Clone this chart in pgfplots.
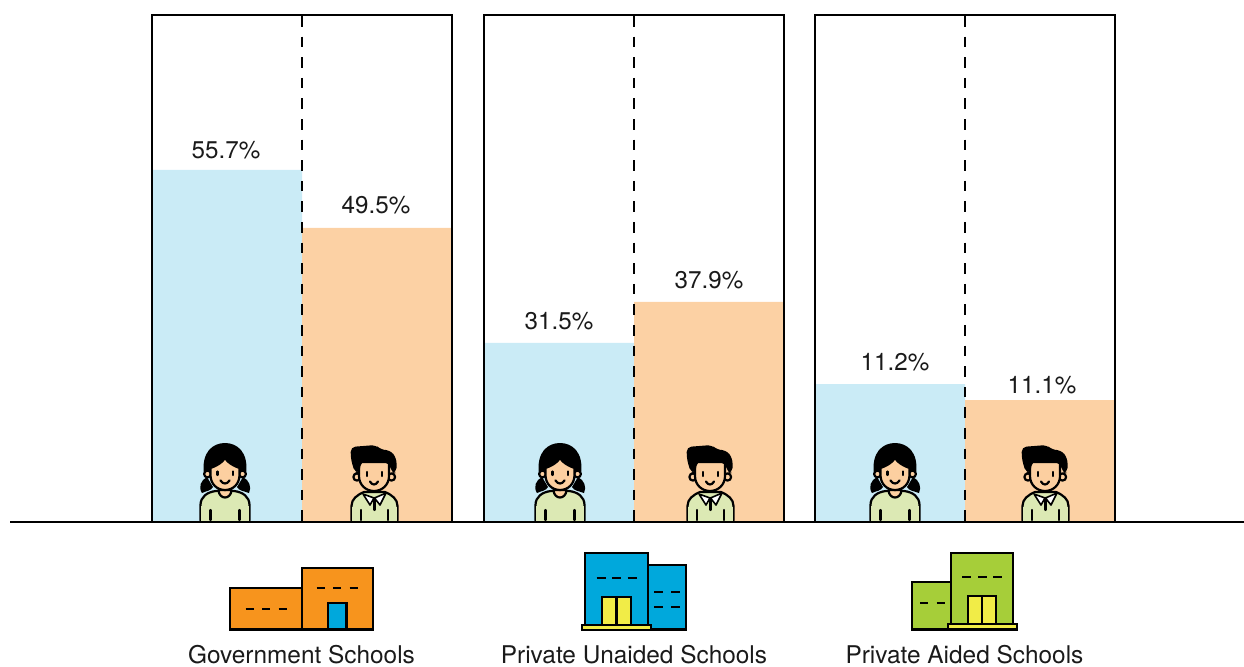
\documentclass[border=0pt]{standalone}
\usepackage{pgfplots}
\usepackage{pgfplotstable}
\usepackage{fontspec}
\setmainfont{TeX Gyre Heros}
\pgfplotsset{compat=1.18}
\definecolor{girlbar}{HTML}{CAEBF6}
\definecolor{boybar}{HTML}{FCD1A4}
\definecolor{skin}{HTML}{FCCFA0}
\definecolor{shirt}{HTML}{DCE9B4}
\definecolor{bOrange}{HTML}{F7941D}
\definecolor{bBlue}{HTML}{00A8DC}
\definecolor{bGreen}{HTML}{A6CE39}
\definecolor{bYellow}{HTML}{F1EC47}
\definecolor{ink}{HTML}{1A1A1A}
% x = bar centre (px), h = drawn bar height above baseline (px)
\pgfplotstableread{
x h
227 352
559 179
890 138
}\girls
\pgfplotstableread{
x h
377 294
709 220
1040 122
}\boys
% labels: x, height of the label centre above baseline, value
\pgfplotstableread{
x y v
226 372 55.7
376 317 49.5
559 201 31.5
709 242 37.9
895 160 11.2
1042 137 11.1
}\labels
\newcommand\girl[1]{%
\begin{scope}[shift={(#1,0)},line width=1.1pt,line join=round,line cap=round]
\fill[black] (-18,477) .. controls (-24,480) and (-27,487) .. (-23,493) .. controls (-19,491) and (-14,491) .. (-12,487) -- cycle;
\fill[black] (18,477) .. controls (24,480) and (27,487) .. (24,493) .. controls (19,491) and (14,491) .. (12,487) -- cycle;
\fill[black] (-21,474) .. controls (-24,452) and (-12,443) .. (0,443) .. controls (12,443) and (24,452) .. (21,474) -- cycle;
\draw[fill=shirt] (-24.5,520.5) -- (-24.5,505) .. controls (-24.5,497) and (-18,492) .. (-9,491) -- (9,491) .. controls (18,492) and (24.5,497) .. (24.5,505) -- (24.5,520.5);
\fill[shirt] (-24,520.5) rectangle (24,506);
\draw (-14.5,510) -- (-14.5,520) (14.5,510) -- (14.5,520);
\draw[fill=skin] (-6.5,490) .. controls (-6,500) and (6,500) .. (6.5,490) -- cycle;
\draw[fill=skin] (-17.5,474) circle[radius=3.4];
\draw[fill=skin] (17.5,474) circle[radius=3.4];
\draw[fill=skin] (-14.5,468) .. controls (-9,466) and (-3,463) .. (0,458) .. controls (3,463) and (9,466) .. (14.5,468) -- (14.5,475) .. controls (14.5,484) and (8,490) .. (0,490) .. controls (-8,490) and (-14.5,484) .. (-14.5,475) -- cycle;
\draw (-7.5,471.5) -- (-7.5,475) (8,471.5) -- (8,475);
\draw (-4.5,480.5) .. controls (-2,484.5) and (2,484.5) .. (4.5,480.5);
\end{scope}}
\newcommand\boy[1]{%
\begin{scope}[shift={(#1,0)},line width=1.1pt,line join=round,line cap=round]
\draw[fill=shirt] (-22.5,520.5) -- (-22.5,506) .. controls (-22.5,499) and (-17,495) .. (-10,492) -- (11,492) .. controls (18,495) and (23.5,499) .. (23.5,506) -- (23.5,520.5);
\fill[shirt] (-22,520.5) rectangle (23,507);
\draw (-12.7,510) -- (-12.7,520) (14,510) -- (14,520);
\draw[fill=white,line width=0.8pt] (-11,494) -- (0,498) -- (-4,505) -- cycle;
\draw[fill=white,line width=0.8pt] (12,493) -- (0.5,498) -- (6,505) -- cycle;
\draw (0.5,498) -- (0.5,510);
\draw[fill=skin] (-17,477) circle[radius=3.6];
\draw[fill=skin] (17.5,477) circle[radius=3.6];
\draw[fill=skin] (-15,462) -- (15,462) -- (15,476) .. controls (15,485) and (8,491) .. (0,491) .. controls (-8,491) and (-15,485) .. (-15,476) -- cycle;
\fill[black,rounded corners=2.5pt] (-23.5,447) -- (2,445) -- (7,450) -- (16,450) -- (22.5,458) -- (22.5,473) -- (17,473) -- (16,463) -- (-13,461) -- (-14.5,473) -- (-19,473) -- (-23,460) -- cycle;
\draw (-7,472) -- (-7,476) (8.3,472) -- (8.3,476);
\draw (-4,481.5) .. controls (-2,485.5) and (2,485.5) .. (4,481.5);
\end{scope}}
\begin{document}
\begin{tikzpicture}
\useasboundingbox (0,0) rectangle (622pt,333pt);
\begin{axis}[
  at={(0,0)},anchor=south west,
  scale only axis,width=622pt,height=333pt,
  xmin=0,xmax=1244,ymin=-144,ymax=522,
  hide axis,clip=false,
  /pgf/number format/assume math mode=true,
  ybar,bar width=150,bar shift=0pt,
]
\addplot[draw=none,fill=girlbar] table[x=x,y=h] {\girls};
\addplot[draw=none,fill=boybar] table[x=x,y=h] {\boys};
\addplot[draw=none,fill=none,
  point meta=explicit,
  nodes near coords={\pgfmathprintnumber[fixed,fixed zerofill,precision=1]{\pgfplotspointmeta}\%},
  every node near coord/.style={anchor=center,font=\fontsize{12.1}{14}\selectfont,text=ink,inner sep=0pt}]
  table[x=x,y=y,meta=v] {\labels};
\end{axis}
\begin{scope}[shift={(0pt,333pt)},x=0.5pt,y=-0.5pt]
\begin{scope}[line width=1pt]
\draw (152,522) -- (152,15) -- (452,15) -- (452,522);
\draw (484,522) -- (484,15) -- (784,15) -- (784,522);
\draw (815,522) -- (815,15) -- (1115,15) -- (1115,522);
\end{scope}
\begin{scope}[line width=0.75pt,dash pattern=on 5.3pt off 5pt]
\draw (301.8,16) -- (301.8,522);
\draw (633.8,16) -- (633.8,522);
\draw (964.8,16) -- (964.8,522);
\end{scope}
\girl{225}\girl{560}\girl{895}
\boy{374}\boy{710}\boy{1045}
\draw[line width=1pt] (10,522) -- (1244,522);
% Government school
\begin{scope}[line width=1.1pt,line join=miter]
\draw[fill=bOrange] (230,588) rectangle (302,629.5);
\draw[fill=bOrange] (302,568) rectangle (373,629.5);
\draw[fill=bBlue] (328,603) rectangle (346.5,629.5);
\draw (316.7,587.7) -- +(8,0) (333,587.7) -- +(8,0) (349.5,587.7) -- +(8,0);
\draw (245.7,608.7) -- +(8,0) (262,608.7) -- +(8,0) (278.5,608.7) -- +(8,0);
% Private unaided
\draw[fill=bBlue] (647.7,565.3) rectangle (686,629.5);
\draw[fill=bBlue] (585.3,552.7) rectangle (647.7,626);
\draw[fill=bYellow] (602.3,596.7) rectangle (616.5,625);
\draw[fill=bYellow] (616.5,596.7) rectangle (630.7,625);
\draw[fill=bYellow] (582.3,625) rectangle (651,630);
\draw (596.7,577.7) -- +(9,0) (612,577.7) -- +(9,0) (627.5,577.7) -- +(9,0);
\draw (654.3,591.7) -- +(9,0) (671,591.7) -- +(9,0);
\draw (654.3,607) -- +(9,0) (671,607) -- +(9,0);
% Private aided
\draw[fill=bGreen] (912.3,582) rectangle (951,629.5);
\draw[fill=bGreen] (951,553.3) rectangle (1013.3,626);
\draw[fill=bYellow] (968,596) rectangle (982.3,624);
\draw[fill=bYellow] (982.3,596) rectangle (996.3,624);
\draw[fill=bYellow] (948,624.2) rectangle (1016.7,629.5);
\draw (962.3,577) -- +(9,0) (978,577) -- +(9,0) (993.3,577) -- +(9,0);
\draw (920,603.3) -- +(8,0) (936.7,603.3) -- +(8,0);
\end{scope}
\node[anchor=base,font=\fontsize{12.2}{14}\selectfont,text=ink,inner sep=0pt] at (301.5,663) {Government Schools};
\node[anchor=base,font=\fontsize{12.2}{14}\selectfont,text=ink,inner sep=0pt] at (634,663) {Private Unaided Schools};
\node[anchor=base,font=\fontsize{12.2}{14}\selectfont,text=ink,inner sep=0pt] at (964.5,663) {Private Aided Schools};
\end{scope}
\end{tikzpicture}
\end{document}
